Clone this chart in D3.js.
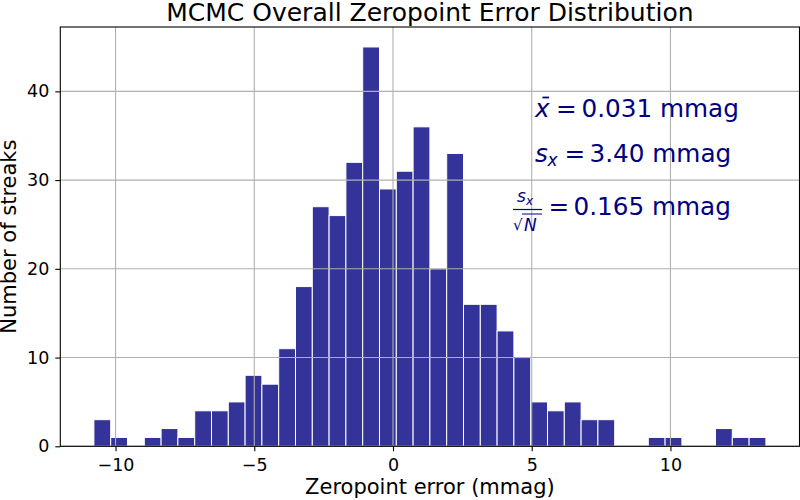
<!DOCTYPE html>
<html lang="en">
<head>
    <meta charset="UTF-8">
    <title>MCMC Overall Zeropoint Error Distribution</title>
    <script src="https://d3js.org/d3.v7.min.js"></script>
    <style>
        body { margin: 0; background: #fff; }
        text { font-family: "DejaVu Sans", sans-serif; }
    </style>
</head>
<body>
    <div id="my_dataviz"></div>

    <script>
        // histogram: lower edge of the first bin, bin width, counts per bin
        var binMin = -10.78
        var binWidth = 0.6055
        var counts = [3, 1, 0, 1, 2, 1, 4, 4, 5, 8,
                      7, 11, 18, 27, 26, 32, 45, 29, 31, 36,
                      20, 33, 16, 16, 13, 10, 5, 4, 5, 3,
                      3, 0, 0, 1, 1, 0, 0, 2, 1, 1]

        var xTicks = [-10, -5, 0, 5, 10]
        var yTicks = [0, 10, 20, 30, 40]

        var statMean = "0.031 mmag"
        var statStd = "3.40 mmag"
        var statSem = "0.165 mmag"

        // dimensions of the whole figure and the axes box
        var W = 800, H = 500
        var margin = {top: 27, right: 0.5, bottom: 53.7, left: 60.3},
            width = W - margin.left - margin.right,
            height = H - margin.top - margin.bottom

        var svg = d3.select("#my_dataviz")
            .append("svg")
                .attr("width", W)
                .attr("height", H)

        var g = svg.append("g")
            .attr("transform", "translate(" + margin.left + "," + margin.top + ")")

        // bins built from the counts
        var bins = counts.map(function(c, i) {
            return {x0: binMin + i * binWidth, x1: binMin + (i + 1) * binWidth, n: c}
        })

        // X scale with matplotlib-like 5% margins
        var lo = binMin, hi = binMin + counts.length * binWidth
        var pad = (hi - lo) * 0.05
        var x = d3.scaleLinear()
            .domain([lo - pad, hi + pad])
            .range([0, width])

        var y = d3.scaleLinear()
            .domain([0, d3.max(counts) * 1.05])
            .range([height, 0])

        // bars
        g.append("g")
            .selectAll("rect")
            .data(bins.filter(function(d) { return d.n > 0 }))
            .enter()
            .append("rect")
                .attr("x", function(d) { return x(d.x0) })
                .attr("y", function(d) { return y(d.n) })
                .attr("width", function(d) { return x(d.x1) - x(d.x0) })
                .attr("height", function(d) { return y(0) - y(d.n) })
                .attr("fill", "#333399")
                .attr("stroke", "#ffffff")
                .attr("stroke-width", 1)

        // statistics text (navy, mathtext-like)
        var navy = "#000080"
        var fs = 24.7
        var stats = svg.append("g").attr("fill", navy)

        // x-bar line
        stats.append("text").attr("x", 535).attr("y", 117)
            .attr("font-size", fs).attr("font-style", "italic").text("x")
        stats.append("line").attr("x1", 542.5).attr("x2", 549).attr("y1", 97.5).attr("y2", 97.5)
            .attr("stroke", navy).attr("stroke-width", 1.8)
        stats.append("text").attr("x", 556).attr("y", 117)
            .attr("font-size", fs).text("=")
        stats.append("text").attr("x", 581.5).attr("y", 117)
            .attr("font-size", fs).text(statMean)

        // s_x line
        stats.append("text").attr("x", 535).attr("y", 162)
            .attr("font-size", fs).attr("font-style", "italic").text("s")
        stats.append("text").attr("x", 547.5).attr("y", 166)
            .attr("font-size", 17).attr("font-style", "italic").text("x")
        stats.append("text").attr("x", 564.5).attr("y", 162)
            .attr("font-size", fs).text("=")
        stats.append("text").attr("x", 589.5).attr("y", 162)
            .attr("font-size", fs).text(statStd)

        // s_x / sqrt(N) line
        stats.append("text").attr("x", 517).attr("y", 202)
            .attr("font-size", 17).attr("font-style", "italic").text("s")
        stats.append("text").attr("x", 526).attr("y", 205)
            .attr("font-size", 12).attr("font-style", "italic").text("x")
        stats.append("line").attr("x1", 513).attr("x2", 542).attr("y1", 209.5).attr("y2", 209.5)
            .attr("stroke", navy).attr("stroke-width", 1.2)
        stats.append("text").attr("x", 513).attr("y", 230)
            .attr("font-size", 15).text("\u221A")
        stats.append("line").attr("x1", 522).attr("x2", 542).attr("y1", 214).attr("y2", 214)
            .attr("stroke", navy).attr("stroke-width", 1)
        stats.append("text").attr("x", 524).attr("y", 231)
            .attr("font-size", 17).attr("font-style", "italic").text("N")
        stats.append("text").attr("x", 548.5).attr("y", 215)
            .attr("font-size", fs).text("=")
        stats.append("text").attr("x", 573.5).attr("y", 215)
            .attr("font-size", fs).text(statSem)

        // grid drawn on top
        var grid = g.append("g").attr("stroke", "#b0b0b0").attr("stroke-width", 1.1)
        grid.selectAll(".vg").data(xTicks).enter().append("line")
            .attr("x1", function(d) { return x(d) }).attr("x2", function(d) { return x(d) })
            .attr("y1", 0).attr("y2", height)
        grid.selectAll(".hg").data(yTicks).enter().append("line")
            .attr("x1", 0).attr("x2", width)
            .attr("y1", function(d) { return y(d) }).attr("y2", function(d) { return y(d) })

        // axes
        var xAxis = g.append("g")
            .attr("transform", "translate(0," + height + ")")
            .call(d3.axisBottom(x).tickValues(xTicks).tickSize(5).tickPadding(7)
                .tickFormat(function(d) { return d < 0 ? "\u2212" + Math.abs(d) : d }))
        var yAxis = g.append("g")
            .call(d3.axisLeft(y).tickValues(yTicks).tickSize(5).tickPadding(6))
        ;[xAxis, yAxis].forEach(function(a) {
            a.select(".domain").remove()
            a.selectAll("line").attr("stroke", "#000").attr("stroke-width", 1.1)
            a.selectAll("text").attr("font-size", 17.5).attr("fill", "#000")
                .attr("font-family", "DejaVu Sans")
        })

        // frame
        g.append("rect")
            .attr("width", width).attr("height", height)
            .attr("fill", "none").attr("stroke", "#000").attr("stroke-width", 1.1)

        // labels
        svg.append("text")
            .attr("x", margin.left + width / 2).attr("y", 20.5)
            .attr("text-anchor", "middle").attr("font-size", 25)
            .text("MCMC Overall Zeropoint Error Distribution")
        svg.append("text")
            .attr("x", margin.left + width / 2).attr("y", 494)
            .attr("text-anchor", "middle").attr("font-size", 21)
            .text("Zeropoint error (mmag)")
        svg.append("text")
            .attr("transform", "translate(15.5," + (margin.top + height / 2) + ") rotate(-90)")
            .attr("text-anchor", "middle").attr("font-size", 21)
            .text("Number of streaks")
    </script>
</body>
</html>
